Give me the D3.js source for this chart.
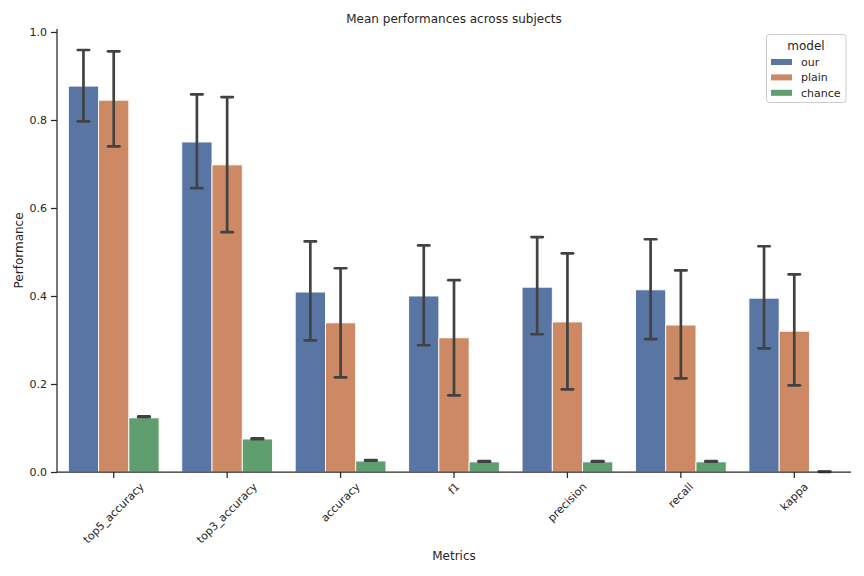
<!DOCTYPE html>
<html>
<head>
<meta charset="utf-8">
<script src="https://cdn.jsdelivr.net/npm/d3@7"></script>
<style>
  html, body { margin: 0; padding: 0; background: #fff; }
  svg { display: block; font-family: "DejaVu Sans", sans-serif; }
</style>
</head>
<body>
<svg id="chart" width="864" height="576"></svg>
<script>
// ---- data ----
const categories = ["top5_accuracy", "top3_accuracy", "accuracy", "f1", "precision", "recall", "kappa"];
const models = ["our", "plain", "chance"];
const ourMean  = [0.877, 0.750, 0.409, 0.400, 0.420, 0.414, 0.395];
const ourLow   = [0.797, 0.645, 0.299, 0.288, 0.313, 0.302, 0.281];
const ourHigh  = [0.959, 0.858, 0.524, 0.515, 0.534, 0.529, 0.513];
const plainMean = [0.845, 0.698, 0.339, 0.305, 0.341, 0.334, 0.320];
const plainLow  = [0.740, 0.545, 0.215, 0.174, 0.188, 0.213, 0.197];
const plainHigh = [0.956, 0.852, 0.463, 0.436, 0.497, 0.458, 0.449];
const chanceMean = [0.123, 0.075, 0.025, 0.023, 0.023, 0.023, 0.000];
const chanceLow  = [0.1245, 0.0748, 0.0258, 0.0235, 0.0235, 0.0235, 0.0003];
const chanceHigh = [0.1265, 0.0766, 0.0272, 0.0245, 0.0245, 0.0245, 0.0009];
const yTicks = [0.0, 0.2, 0.4, 0.6, 0.8, 1.0];
const colors = ["#5975a4", "#cc8963", "#5f9e6e"];

(function () {
const series = [
  {model: "our", mean: ourMean, lo: ourLow, hi: ourHigh},
  {model: "plain", mean: plainMean, lo: plainLow, hi: plainHigh},
  {model: "chance", mean: chanceMean, lo: chanceLow, hi: chanceHigh}
];

const rows = [];
series.forEach((s, si) => {
  categories.forEach((c, ci) => {
    rows.push({cat: c, model: s.model, si, value: s.mean[ci], lo: s.lo[ci], hi: s.hi[ci]});
  });
});

// ---- layout ----
const svg = d3.select("#chart");
const pLeft = 57, pRight = 851, pTop = 28.9, pBottom = 472;
const textColor = "#262626";

const x = d3.scaleBand().domain(categories).range([pLeft, pRight]).paddingInner(0).paddingOuter(0);
const xSub = d3.scaleBand().domain(models).range([x.bandwidth() * 0.1, x.bandwidth() * 0.9]).padding(0);
const y = d3.scaleLinear().domain([0, 1.007]).range([pBottom, pTop]);
const color = d3.scaleOrdinal().domain(models).range(colors);

// bars
svg.append("g").selectAll("rect").data(rows).join("rect")
  .attr("x", d => x(d.cat) + xSub(d.model))
  .attr("width", xSub.bandwidth())
  .attr("y", d => y(d.value))
  .attr("height", d => y(0) - y(d.value))
  .attr("fill", d => color(d.model))
  .attr("stroke", "#fff")
  .attr("stroke-width", 0.9);

// error bars
const eg = svg.append("g").attr("stroke", "#424242").attr("stroke-width", 2.7).attr("fill", "none");
const capHalf = x.bandwidth() * 0.05;
rows.forEach(d => {
  const cx = x(d.cat) + xSub(d.model) + xSub.bandwidth() / 2;
  eg.append("line").attr("x1", cx).attr("x2", cx).attr("y1", y(d.lo)).attr("y2", y(d.hi));
  [d.lo, d.hi].forEach(v => {
    eg.append("line").attr("x1", cx - capHalf).attr("x2", cx + capHalf)
      .attr("y1", y(v)).attr("y2", y(v)).attr("stroke-linecap", "round");
  });
});

// y axis
const yAxis = d3.axisLeft(y).tickValues(yTicks).tickFormat(d3.format(".1f")).tickSize(6).tickPadding(4);
const yg = svg.append("g").attr("transform", `translate(${pLeft},0)`).call(yAxis);
yg.select(".domain").attr("stroke", textColor).attr("stroke-width", 1.25).attr("d", `M0,${pTop}V${pBottom}`);
yg.selectAll(".tick line").attr("stroke", textColor).attr("stroke-width", 1.25);
yg.selectAll(".tick text").attr("fill", textColor).style("font-size", "11px").style("font-family", "DejaVu Sans");

// x axis
const xAxis = d3.axisBottom(x).tickSize(6).tickFormat("");
const xg = svg.append("g").attr("transform", `translate(0,${pBottom})`).call(xAxis);
xg.select(".domain").attr("stroke", textColor).attr("stroke-width", 1.25).attr("d", `M${pLeft},0H${pRight}`);
xg.selectAll(".tick line").attr("stroke", textColor).attr("stroke-width", 1.25);

// rotated x labels (rotation=45, ha=center, va=top)
const labelTop = 481;
categories.forEach(c => {
  const cx = x(c) + x.bandwidth() / 2;
  const t = svg.append("text").text(c)
    .attr("fill", textColor).style("font-size", "11px")
    .attr("text-anchor", "middle").attr("dominant-baseline", "central");
  const w = t.node().getComputedTextLength();
  const h = 11;
  const bb = (w + h) / Math.SQRT2;
  const cy = labelTop + bb / 2;
  t.attr("x", 0).attr("y", 0).attr("transform", `translate(${cx},${cy}) rotate(-45)`);
});

// axis labels
svg.append("text").text("Metrics").attr("x", (pLeft + pRight) / 2).attr("y", 560)
  .attr("text-anchor", "middle").attr("fill", textColor).style("font-size", "12px");
svg.append("text").text("Performance")
  .attr("transform", `translate(23,${(pTop + pBottom) / 2}) rotate(-90)`)
  .attr("text-anchor", "middle").attr("fill", textColor).style("font-size", "12px");

// title
svg.append("text").text("Mean performances across subjects").attr("x", (pLeft + pRight) / 2).attr("y", 23)
  .attr("text-anchor", "middle").attr("fill", textColor).style("font-size", "12px");

// legend
const lg = svg.append("g");
lg.append("rect").attr("x", 766.5).attr("y", 34.5).attr("width", 79.5).attr("height", 68)
  .attr("rx", 3).attr("fill", "#fff").attr("fill-opacity", 0.8).attr("stroke", "#cccccc").attr("stroke-width", 1);
lg.append("text").text("model").attr("x", 806).attr("y", 49.5).attr("text-anchor", "middle")
  .attr("fill", textColor).style("font-size", "12px");
models.forEach((m, i) => {
  const yy = 62 + i * 15.4;
  lg.append("rect").attr("x", 771).attr("y", yy - 3).attr("width", 21).attr("height", 6).attr("fill", color(m));
  lg.append("text").text(m).attr("x", 801).attr("y", yy + 4).attr("fill", textColor).style("font-size", "11px");
});
})();
</script>
</body>
</html>
